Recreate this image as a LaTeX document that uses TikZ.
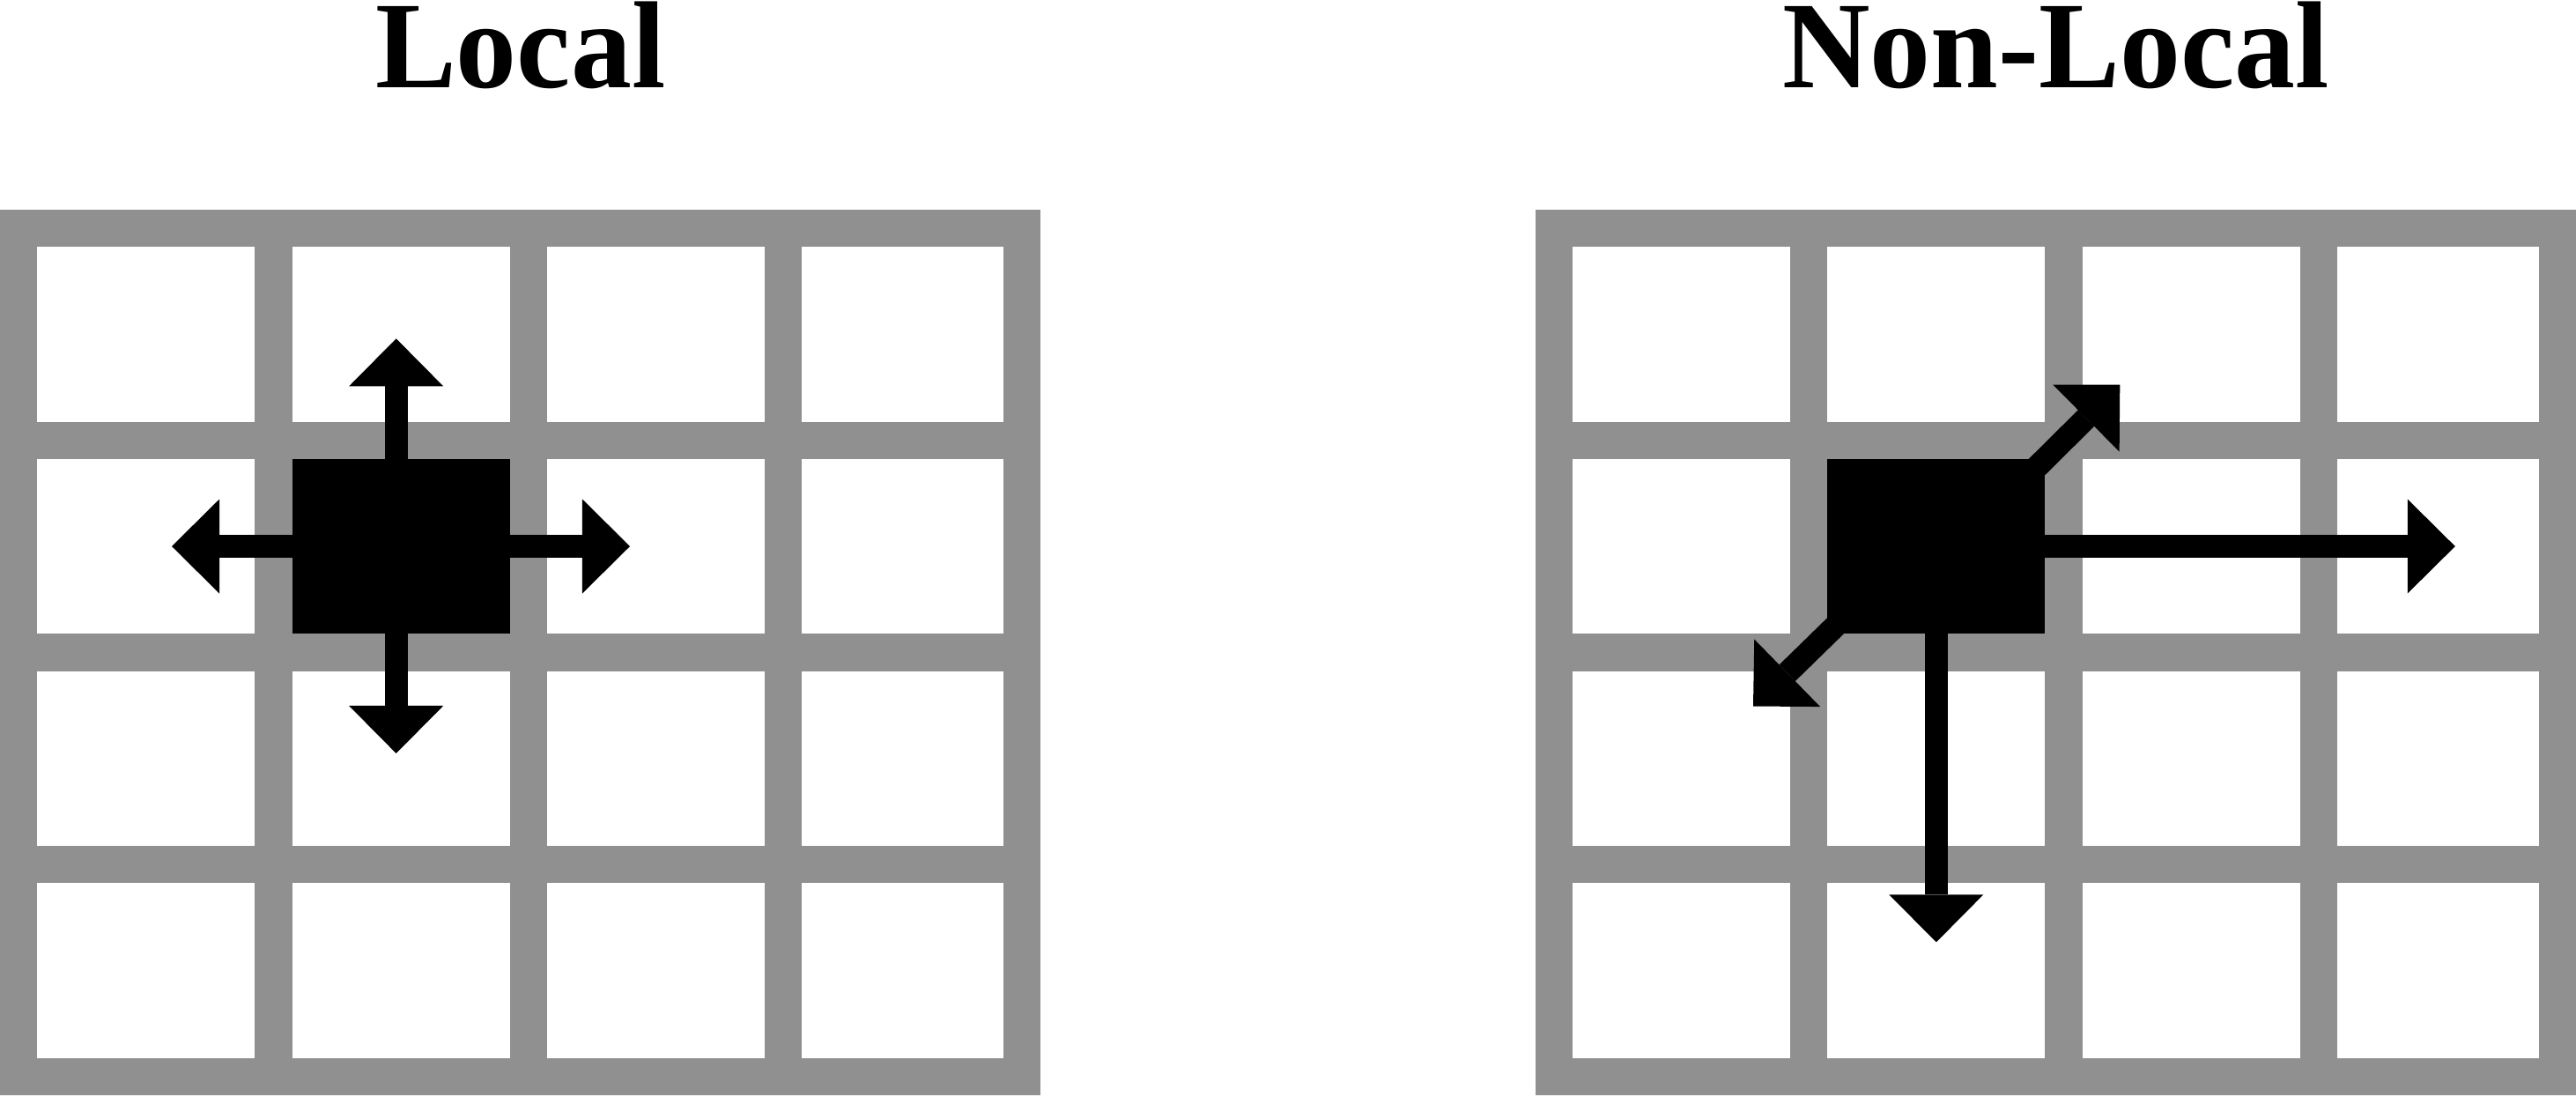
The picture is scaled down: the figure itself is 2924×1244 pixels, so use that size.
\documentclass[tikz,border=0pt]{standalone}
\usepackage{fontspec}
\setmainfont{Liberation Serif}
\usetikzlibrary{arrows.meta}
\definecolor{grigio}{RGB}{144,144,144}

\begin{document}
\begin{tikzpicture}[x=0.01cm, y=-0.01cm,
			griglia/.style={draw=grigio, line width=0.423cm},
			cella/.style={fill=black, inner sep=0pt, outer sep=0pt,
				minimum width=2.47cm, minimum height=1.984cm},
			freccia/.style={line width=0.26cm,
				-{Triangle[length=0.54cm, width=1.07cm, line width=0pt]}},
			titolo/.style={anchor=base, font=\fontsize{40}{48}\selectfont\bfseries}]
			
			\useasboundingbox (0,0) rectangle (2924,1244);
			
			% Due griglie 4x4
			\foreach \ox in {0,1742.7} {
				\foreach \x in {21.15,310.45,599.75,889.05,1160.15}
					\draw[griglia] (\ox+\x,237.7) -- (\ox+\x,1243.3);
				\foreach \y in {258.85,499.65,740.35,981.15,1222.15}
					\draw[griglia] (\ox,\y) -- (\ox+1181.3,\y);
			}
			
			% Titoli
			\node[titolo, xscale=0.98] (local) at (590.65,99) {Local};
			\node[titolo, xscale=0.98] (nonlocal) at (2333.35,99) {Non-Local};
			
			% Celle attive
			\node[cella] (sqL) at (455.1,620) {};
			\node[cella] (sqR) at (2197.8,620) {};
			
			% --- Vicinato locale ---
			\coordinate (nL) at (449.7,384.3);
			\coordinate (sL) at (449.7,855);
			\coordinate (wL) at (195,620);
			\coordinate (eL) at (715,620);
			\draw[freccia] (nL |- sqL.north) -- (nL);
			\draw[freccia] (sL |- sqL.south) -- (sL);
			\draw[freccia] (sqL.west) -- (wL);
			\draw[freccia] (sqL.east) -- (eL);
			
			% --- Vicinato non locale ---
			\coordinate (neR) at (2406.3,436.5);
			\coordinate (swR) at (1990,801.5);
			\coordinate (eR) at (2786.8,620);
			\coordinate (sR) at (2197.8,1069.3);
			\draw[freccia, shorten <=-0.3cm] (sqR.north east) -- (neR);
			\draw[freccia, shorten <=-0.3cm] (sqR.south west) -- (swR);
			\draw[freccia] (sqR.east) -- (eR);
			\draw[freccia] (sqR.south) -- (sR);
		\end{tikzpicture}
\end{document}
